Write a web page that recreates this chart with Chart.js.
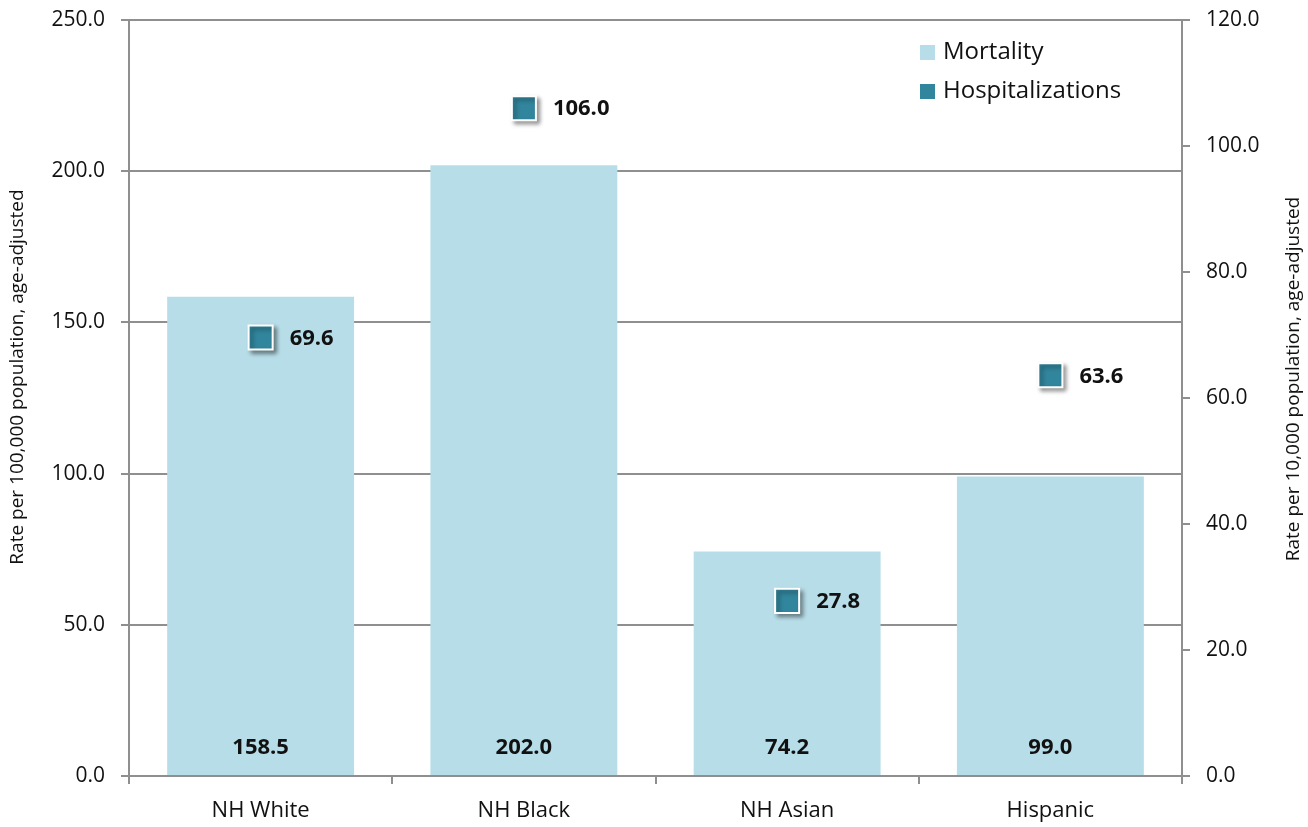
<!DOCTYPE html>
<html>
<head>
<meta charset="utf-8">
<script src="https://cdn.jsdelivr.net/npm/chart.js@4.4.1/dist/chart.umd.min.js"></script>
<style>
  html, body { margin: 0; padding: 0; background: #fff; }
  #wrap { width: 1308px; height: 827px; position: relative; }
</style>
</head>
<body>
<div id="wrap"><canvas id="chart" width="1308" height="827"></canvas></div>
<script>
// data
const categories = ['NH White', 'NH Black', 'NH Asian', 'Hispanic'];
const mortality = [158.5, 202.0, 74.2, 99.0];
const hospitalizations = [69.6, 106.0, 27.8, 63.6];
const leftTicks = [0, 50, 100, 150, 200, 250];
const rightTicks = [0, 20, 40, 60, 80, 100, 120];
const leftTitle = 'Rate per 100,000 population, age-adjusted';
const rightTitle = 'Rate per 10,000 population, age-adjusted';

const FONT = "'Open Sans', sans-serif";
const GRID = '#8f8f8f';
const BAR_COLOR = '#b7dde8';
const MARK_COLOR = '#31859c';

// bar values at the foot of each bar, point values to the right of each marker,
// the legend in the top right corner and both axis titles (reading upwards)
const labelPlugin = {
  id: 'labels',
  beforeDatasetDraw(chart, args) {
    if (args.index === 1) {
      const ctx = chart.ctx;
      ctx.save();
      ctx.shadowColor = 'rgba(0,0,0,0.4)';
      ctx.shadowBlur = 4;
      ctx.shadowOffsetX = 3;
      ctx.shadowOffsetY = 3;
    }
  },
  afterDatasetDraw(chart, args) {
    if (args.index === 1) chart.ctx.restore();
  },
  afterDatasetsDraw(chart) {
    const ctx = chart.ctx;
    const yScale = chart.scales.y;
    ctx.save();
    ctx.fillStyle = '#111';
    ctx.font = 'bold 22px ' + FONT;
    ctx.textBaseline = 'middle';

    ctx.textAlign = 'center';
    chart.getDatasetMeta(0).data.forEach((bar, i) => {
      ctx.fillText(mortality[i].toFixed(1), bar.x, yScale.getPixelForValue(0) - 28);
    });

    ctx.textAlign = 'left';
    chart.getDatasetMeta(1).data.forEach((pt, i) => {
      ctx.fillText(hospitalizations[i].toFixed(1), pt.x + 29, pt.y + 1);
    });

    // legend
    const lx = 920, items = [['Mortality', BAR_COLOR, 52], ['Hospitalizations', MARK_COLOR, 91]];
    ctx.font = '24px ' + FONT;
    items.forEach(([text, color, y]) => {
      ctx.fillStyle = color;
      ctx.fillRect(lx, y - 7, 15, 15);
      ctx.fillStyle = '#111';
      ctx.fillText(text, lx + 23, y);
    });

    // axis titles
    ctx.font = '19px ' + FONT;
    ctx.textAlign = 'center';
    [[leftTitle, 18, 377], [rightTitle, 1294, 379]].forEach(([text, x, y]) => {
      ctx.save();
      ctx.translate(x, y);
      ctx.rotate(-Math.PI / 2);
      ctx.fillText(text, 0, 0);
      ctx.restore();
    });
    ctx.restore();
  }
};

// fixed axis sizes so the plot area lands where it is in the picture
function fitVertical(width) {
  return scale => {
    scale.width = width;
    scale.paddingTop = 0;
    scale.paddingBottom = 0;
  };
}

const ctx = document.getElementById('chart').getContext('2d');
new Chart(ctx, {
  data: {
    labels: categories,
    datasets: [
      {
        type: 'bar',
        label: 'Mortality',
        data: mortality,
        backgroundColor: BAR_COLOR,
        yAxisID: 'y',
        categoryPercentage: 1,
        barPercentage: 0.71,
        order: 1
      },
      {
        type: 'line',
        label: 'Hospitalizations',
        data: hospitalizations,
        yAxisID: 'y1',
        showLine: false,
        pointStyle: 'rect',
        pointRadius: 17,
        pointHoverRadius: 17,
        pointBackgroundColor: MARK_COLOR,
        pointBorderColor: '#fff',
        pointBorderWidth: 2,
        order: 0
      }
    ]
  },
  options: {
    responsive: false,
    animation: false,
    layout: { padding: { top: 20, left: 0, right: 0, bottom: 0 } },
    plugins: {
      legend: { display: false },
      tooltip: { enabled: false }
    },
    scales: {
      x: {
        afterFit(scale) {
          scale.height = 51;
          scale.paddingLeft = 0;
          scale.paddingRight = 0;
        },
        grid: {
          offset: true,
          drawOnChartArea: false,
          color: GRID,
          lineWidth: 2,
          tickLength: 8
        },
        border: { color: GRID, width: 2 },
        ticks: { color: '#111', font: { family: FONT, size: 22 }, padding: 14 }
      },
      y: {
        position: 'left',
        min: 0,
        max: 250,
        afterFit: fitVertical(129),
        afterBuildTicks(scale) { scale.ticks = leftTicks.map(v => ({ value: v })); },
        grid: { color: GRID, lineWidth: 2, tickLength: 8 },
        border: { color: GRID, width: 2 },
        ticks: {
          color: '#111',
          font: { family: FONT, size: 21 },
          padding: 16,
          callback: v => v.toFixed(1)
        }
      },
      y1: {
        position: 'right',
        min: 0,
        max: 120,
        afterFit: fitVertical(126),
        afterBuildTicks(scale) { scale.ticks = rightTicks.map(v => ({ value: v })); },
        grid: { drawOnChartArea: false, color: GRID, lineWidth: 2, tickLength: 8 },
        border: { color: GRID, width: 2 },
        ticks: {
          color: '#111',
          font: { family: FONT, size: 21 },
          padding: 16,
          callback: v => v.toFixed(1)
        }
      }
    }
  },
  plugins: [labelPlugin]
});
</script>
</body>
</html>
